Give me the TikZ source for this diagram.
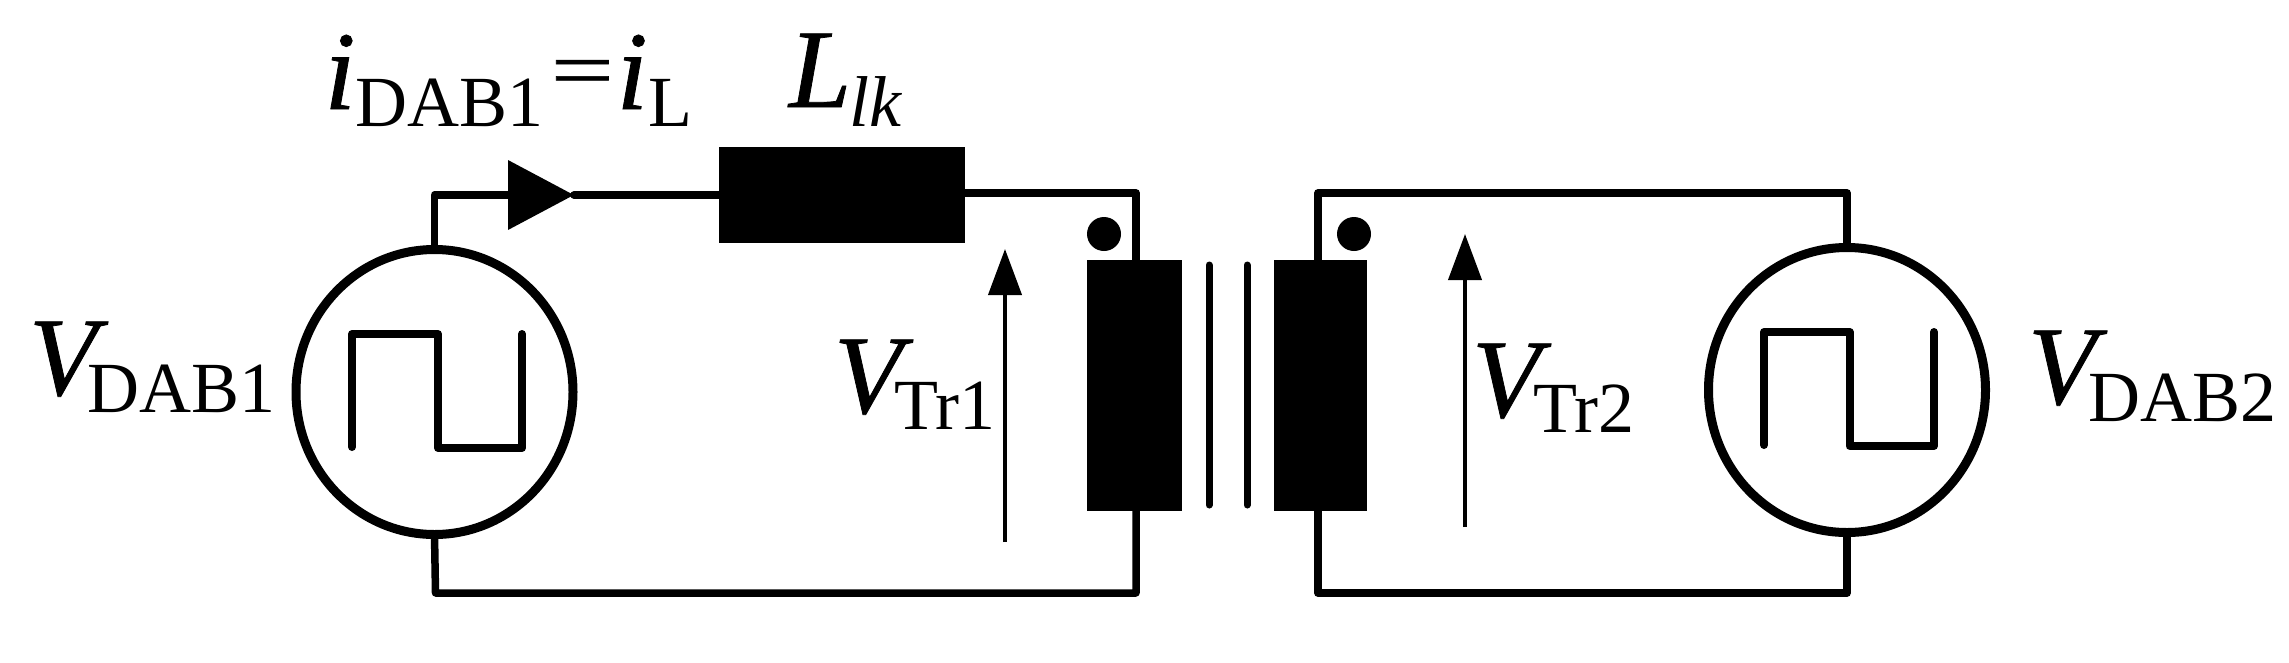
\documentclass[tikz,border=0pt]{standalone}
\usepackage{fontspec}
\setmainfont{Liberation Serif}
\newfontfamily\heavyfam[FakeBold=0.7]{Liberation Serif}
\usetikzlibrary{shapes.geometric,arrows.meta}
\newcommand{\bigfs}{\fontsize{112}{112}\selectfont}
\newcommand{\subfs}{\fontsize{72}{72}\selectfont}
\newcommand{\volt}[3]{{\bigfs\heavyfam\itshape V}\kern#3pt\raisebox{-#2pt}{\subfs #1}}
\tikzset{
  x=1pt,y=-1pt,
  wire/.style={line width=7.5pt,line join=round,line cap=round},
  source/.style={ellipse,draw,line width=9pt,inner sep=0,outer sep=0,minimum width=277pt,minimum height=285pt},
  solidbox/.style={rectangle,fill=black,inner sep=0,outer sep=0},
  polarity/.style={circle,fill=black,inner sep=0,outer sep=0,minimum size=34pt},
  corebar/.style={line width=7pt,line cap=round},
  wave/.style={line width=8pt,line join=round,line cap=round},
  sense/.style={line width=4pt,-{Triangle[length=46pt,width=33pt]}},
  lab/.style={inner sep=0,outer sep=0,anchor=base west,text=black}
}
\begin{document}
\begin{tikzpicture}
\useasboundingbox (0,0) rectangle (2289,662);
\fill[white] (0,0) rectangle (2289,662);
% components
\node[source] (s1) at (434.5,392) {};
\node[source] (s2) at (1847,390) {};
\node[solidbox,minimum width=246pt,minimum height=96pt] (L) at (842,195) {};
\node[solidbox,minimum width=95pt,minimum height=251pt] (T1) at (1134.5,385.5) {};
\node[solidbox,minimum width=93pt,minimum height=251pt] (T2) at (1320.5,385.5) {};
\node[polarity] (d1) at (1104,234) {};
\node[polarity] (d2) at (1354,234) {};
% corner points
\coordinate (a1) at (434.5,195);
\coordinate (tip) at (574,195);
\coordinate (ltop) at (1136,193);
\coordinate (lbot) at (1136,593);
\coordinate (bl1) at (435.5,593);
\coordinate (rtop) at (1318,193);
\coordinate (rbot) at (1318,593);
\coordinate (br1) at (1847,193);
\coordinate (br2) at (1847,593);
% wires
\draw[wire,-{Triangle[length=66pt,width=68pt]}] (s1.north) -- (a1) -- (tip);
\draw[wire] (tip) -- (L.west);
\draw[wire] (L.east |- ltop) -- (ltop) -- (ltop |- T1.north);
\draw[wire] (ltop |- T1.south) -- (lbot) -- (bl1) -- (s1.south);
\draw[wire] (rtop |- T2.north) -- (rtop) -- (br1) -- (s2.north);
\draw[wire] (rtop |- T2.south) -- (rbot) -- (br2) -- (s2.south);
% core
\coordinate (c1t) at (1209,265); \coordinate (c1b) at (1209,505);
\coordinate (c2t) at (1247,265); \coordinate (c2b) at (1247,505);
\draw[corebar] (c1t) -- (c1b);
\draw[corebar] (c2t) -- (c2b);
% square waves
\coordinate (w1a) at (352,447); \coordinate (w1b) at (352,334); \coordinate (w1c) at (438,334);
\coordinate (w1d) at (438,448); \coordinate (w1e) at (522,448); \coordinate (w1f) at (522,334);
\draw[wave] (w1a) -- (w1b) -- (w1c) -- (w1d) -- (w1e) -- (w1f);
\coordinate (w2a) at (1764,445); \coordinate (w2b) at (1764,332); \coordinate (w2c) at (1849.5,332);
\coordinate (w2d) at (1849.5,446); \coordinate (w2e) at (1934,446); \coordinate (w2f) at (1934,332);
\draw[wave] (w2a) -- (w2b) -- (w2c) -- (w2d) -- (w2e) -- (w2f);
% voltage arrows
\coordinate (v1b) at (1005,542); \coordinate (v1t) at (1005,249);
\coordinate (v2b) at (1465,527); \coordinate (v2t) at (1465,234);
\draw[sense] (v1b) -- (v1t);
\draw[sense] (v2b) -- (v2t);
% labels
\node[lab] (t1) at (29,395) {\volt{DAB1}{17}{-9.5}};
\node[lab] (t2) at (2028,404) {\volt{DAB2}{17}{-8.4}};
\node[lab] (t3) at (834,413) {\volt{Tr1}{16}{-8.4}};
\node[lab] (t4) at (1472,417) {\volt{Tr2}{15}{-7.4}};
\node[lab] (t5) at (324.5,109) {{\bigfs\heavyfam\itshape i}\kern-0.5pt\raisebox{-17pt}{\subfs DAB1}\kern7.6pt\raisebox{12pt}{\scalebox{1}[0.72]{\bigfs\heavyfam =}}\kern2.8pt{\bigfs\heavyfam\itshape i}\kern0.5pt\raisebox{-17pt}{\subfs L}};
\node[lab] (t6) at (789,107) {{\bigfs\heavyfam\itshape L}\kern-2pt\raisebox{-19pt}{\subfs\itshape lk}};
\end{tikzpicture}
\end{document}
